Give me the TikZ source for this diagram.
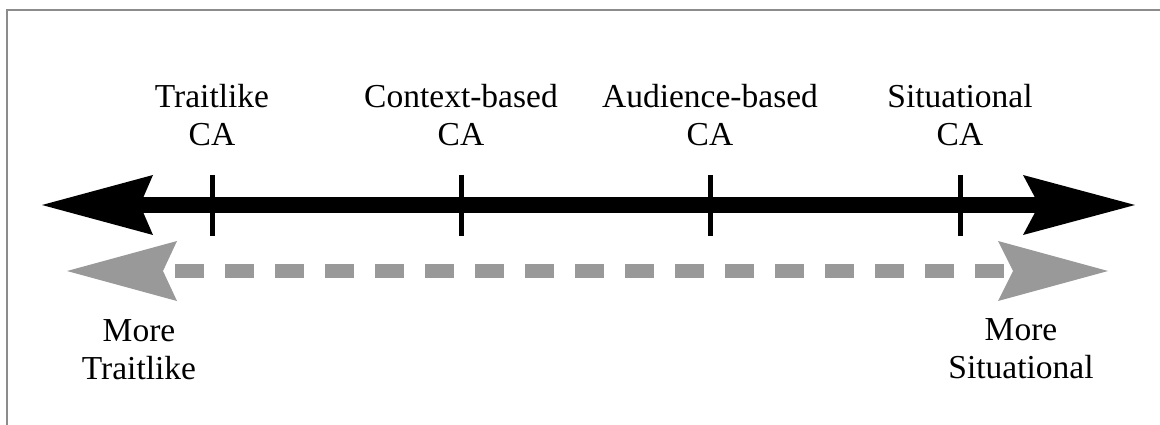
\documentclass[tikz,border=0pt]{standalone}
\usepackage{fontspec}
\setmainfont{Liberation Serif}
\usetikzlibrary{positioning,arrows.meta}
\definecolor{scalegray}{gray}{0.6}
\definecolor{framegray}{gray}{0.55}

\begin{document}
\begin{tikzpicture}[
  x=1pt, y=-1pt,
  node distance=59pt,
  lbl/.style={font=\fontsize{33.5}{38}\selectfont, align=center, inner sep=0pt},
  axis/.style={line width=15pt, {Stealth[length=111pt, width=60pt, inset=13pt, line width=0pt]}-{Stealth[length=112pt, width=60pt, inset=16pt, line width=0pt]}},
  dashaxis/.style={scalegray, line width=14pt, dash pattern=on 29pt off 21pt, dash phase=38pt, {Stealth[length=110pt, width=60pt, inset=14pt, line width=0pt]}-{Stealth[length=110pt, width=60pt, inset=15pt, line width=0pt]}},
  tickmark/.style={line width=5pt},
]
\useasboundingbox (0,0) rectangle (1160,425);

% Frame
\draw[framegray, line width=1.5pt] (7,425) -- (7,10) -- (1160,10);

% Scale
\coordinate (al) at (42,205);
\coordinate (ar) at (1135,205);
\coordinate (gl) at (67,271);
\coordinate (gr) at (1108,271);
\draw[axis] (al) -- (ar);
\draw[dashaxis] (gl) -- (gr);

% Ticks
\coordinate (t1) at (212,205);
\coordinate (t2) at (461,205);
\coordinate (t3) at (710,205);
\coordinate (t4) at (960,205);
\foreach \t in {t1,t2,t3,t4}
  \draw[tickmark] ([yshift=30pt]\t) -- ([yshift=-31pt]\t);

% Labels
\node[lbl, above=of t1] (c1) {Traitlike\\CA};
\node[lbl, above=of t2] (c2) {Context-based\\CA};
\node[lbl, above=of t3] (c3) {Audience-based\\CA};
\node[lbl, above=of t4] (c4) {Situational\\CA};
\node[lbl, anchor=north] (m1) at (139,319) {More\\Traitlike};
\node[lbl, anchor=north] (m2) at (1021,318) {More\\Situational};

\end{tikzpicture}
\end{document}
